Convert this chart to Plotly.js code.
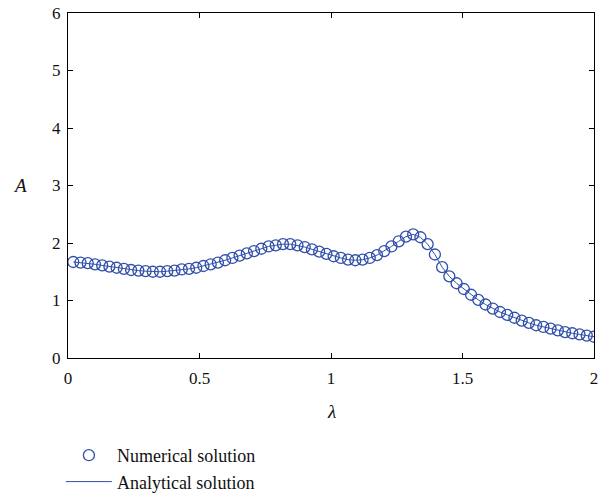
<!DOCTYPE html>
<html>
<head>
<meta charset="utf-8">
<script src="https://cdn.plot.ly/plotly-3.0.1.min.js"></script>
<style>html,body{margin:0;padding:0;background:#fff;}#chart{width:605px;height:496px;}</style>
</head>
<body>
<div id="chart"></div>
<script>
const lambdaValues = [0.02, 0.0475, 0.075, 0.1025, 0.13, 0.1575, 0.185, 0.2125, 0.24, 0.2675,
  0.295, 0.3225, 0.35, 0.3775, 0.405, 0.4325, 0.46, 0.4875, 0.515, 0.5425,
  0.57, 0.5975, 0.625, 0.6525, 0.68, 0.7075, 0.735, 0.7625, 0.79, 0.8175,
  0.845, 0.8725, 0.9, 0.9275, 0.955, 0.9825, 1.01, 1.0375, 1.065, 1.0925,
  1.12, 1.1475, 1.175, 1.2025, 1.23, 1.2575, 1.285, 1.3125, 1.34, 1.3675,
  1.395, 1.4225, 1.45, 1.4775, 1.505, 1.5325, 1.56, 1.5875, 1.615, 1.6425,
  1.67, 1.6975, 1.725, 1.7525, 1.78, 1.8075, 1.835, 1.8625, 1.89, 1.9175,
  1.945, 1.9725, 2.0];
const numericalA = [1.67, 1.66, 1.65, 1.63, 1.61, 1.59, 1.57, 1.55, 1.53, 1.52,
  1.51, 1.50, 1.50, 1.51, 1.52, 1.54, 1.55, 1.57, 1.60, 1.63,
  1.66, 1.70, 1.74, 1.78, 1.82, 1.86, 1.90, 1.94, 1.96, 1.98,
  1.98, 1.96, 1.93, 1.89, 1.85, 1.81, 1.77, 1.74, 1.71, 1.70,
  1.71, 1.74, 1.79, 1.86, 1.94, 2.03, 2.11, 2.15, 2.10, 1.98,
  1.80, 1.58, 1.42, 1.30, 1.20, 1.10, 1.01, 0.93, 0.86, 0.80,
  0.75, 0.70, 0.65, 0.61, 0.57, 0.54, 0.51, 0.48, 0.45, 0.43,
  0.41, 0.39, 0.37];
const analyticalA = numericalA.slice();
const xTickVals = [0, 0.5, 1, 1.5, 2];
const xTickText = ['0', '0.5', '1', '1.5', '2'];
const yTickVals = [0, 1, 2, 3, 4, 5, 6];
const yTickText = ['0', '1', '2', '3', '4', '5', '6'];

const blue = 'rgb(48,78,170)';
const serif = 'Liberation Serif, DejaVu Serif, serif';

const traces = [
  {x: lambdaValues, y: numericalA, name: 'Numerical solution', mode: 'markers', type: 'scatter',
   marker: {symbol: 'circle-open', size: 11, color: blue, line: {width: 1.3, color: blue}}},
  {x: lambdaValues, y: analyticalA, name: 'Analytical solution', mode: 'lines', type: 'scatter',
   line: {color: blue, width: 1}}
];

const axisCommon = {showgrid: false, zeroline: false, showline: true, linecolor: '#000', linewidth: 1,
  mirror: 'ticks', ticks: 'inside', ticklen: 5, tickcolor: '#000', tickwidth: 1,
  tickfont: {family: serif, size: 17, color: '#111'}};

const layout = {
  width: 605, height: 496,
  margin: {l: 68, r: 11, t: 13, b: 138, autoexpand: false},
  paper_bgcolor: '#fff', plot_bgcolor: '#fff',
  xaxis: Object.assign({}, axisCommon, {range: [0, 2], tickvals: xTickVals, ticktext: xTickText, ticklabelstandoff: 5}),
  yaxis: Object.assign({}, axisCommon, {range: [0, 6], tickvals: yTickVals, ticktext: yTickText, ticklabelstandoff: 3}),
  showlegend: true,
  legend: {x: -0.0135, y: -0.229, xanchor: 'left', yanchor: 'top', orientation: 'v', itemwidth: 46,
    font: {family: serif, size: 18, color: '#111'}, bgcolor: 'rgba(0,0,0,0)', tracegroupgap: 0},
  annotations: [
    {text: '<i>λ</i>', xref: 'paper', yref: 'paper', x: 0.5, y: -0.155, showarrow: false,
     xanchor: 'center', yanchor: 'middle', font: {family: serif, size: 19, color: '#111'}},
    {text: '<i>A</i>', xref: 'paper', yref: 'paper', x: -0.092, y: 0.5, showarrow: false,
     xanchor: 'center', yanchor: 'middle', font: {family: serif, size: 19, color: '#111'}}
  ]
};

Plotly.newPlot('chart', traces, layout, {displayModeBar: false, staticPlot: true});
</script>
</body>
</html>
